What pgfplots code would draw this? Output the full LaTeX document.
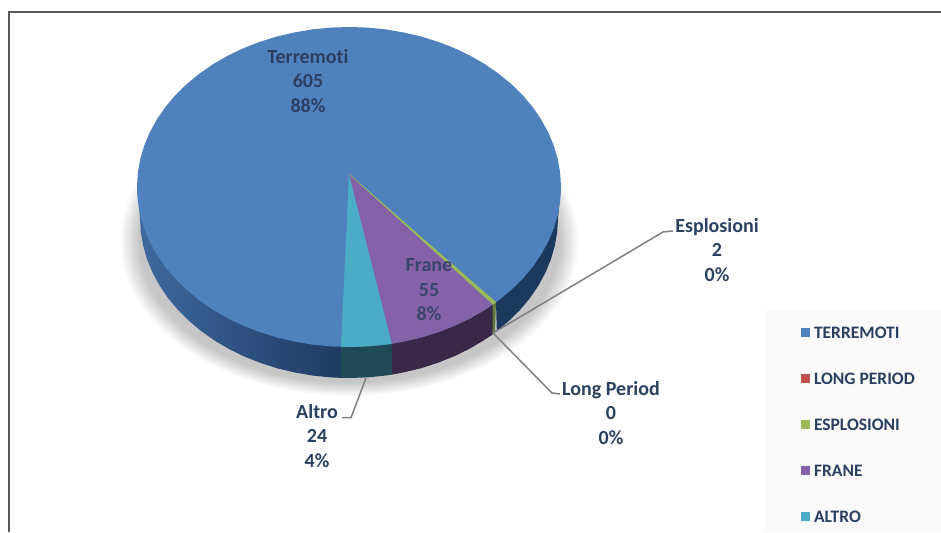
\documentclass[border=0pt]{standalone}
\usepackage{pgfplots}
\pgfplotsset{compat=1.18}
\usepackage{fontspec}
\setmainfont{Carlito}[Ligatures={NoCommon}]

\definecolor{terremoti}{HTML}{4F81BD}
\definecolor{longperiod}{HTML}{C0504D}
\definecolor{esplosioni}{HTML}{9BBB59}
\definecolor{frane}{HTML}{8562A8}
\definecolor{altro}{HTML}{4BACC6}
\definecolor{labtext}{HTML}{2B4060}
\definecolor{ombra}{HTML}{C6C6C6}
\definecolor{leader}{HTML}{808080}
\definecolor{sideT}{HTML}{1C3A5E}
\definecolor{sideE}{HTML}{5E7A3A}
\definecolor{sideF}{HTML}{3A2848}
\definecolor{sideA}{HTML}{1F4A55}
\definecolor{sideL}{HTML}{3F6A9F}
\definecolor{sideM}{HTML}{2E5080}
\definecolor{sideR}{HTML}{1E3A5F}

% the path is fitted to a 50bp box, so 25bp is the rim of the ellipse
\pgfdeclareradialshading{pieshadow}{\pgfpoint{0bp}{0bp}}{%
  color(0bp)=(ombra); color(22.8bp)=(ombra); color(25bp)=(white); color(100bp)=(white)}

\tikzset{
  lab/.style={align=center, text=labtext,
    font=\fontsize{20}{24.5}\selectfont\bfseries},
}

\begin{document}
\begin{tikzpicture}[x=1pt,y=1pt]
  \useasboundingbox (0,0) rectangle (941,532);
  % soft shadow and legend panel sit behind the axis
  \shade[shading=pieshadow] (349,291) ellipse [x radius=230, y radius=155];
  \fill[black!2] (765,0) rectangle (941,222);
  \begin{axis}[
      at={(0pt,0pt)}, anchor=south west,
      scale only axis, width=941pt, height=532pt,
      xmin=0, xmax=941, ymin=0, ymax=532,
      y dir=reverse,
      hide axis,
      clip=false,
      no markers,
      legend style={at={(axis cs:801,327)}, anchor=north west, draw=none, fill=none,
        row sep=34.5pt, inner sep=0pt, outer sep=0pt,
        font=\fontsize{17.5}{17.5}\selectfont\bfseries, text=labtext,
        nodes={inner sep=0pt, text depth=0pt}},
      legend cell align=left,
      legend image code/.code={\fill[#1] (0pt,-4.5pt) rectangle (9pt,4.5pt); \path (13pt,0pt);},
    ]

    \addlegendimage{fill=terremoti, draw=none}
    \addlegendentry{TERREMOTI}
    \addlegendimage{fill=longperiod, draw=none}
    \addlegendentry{LONG PERIOD}
    \addlegendimage{fill=esplosioni, draw=none}
    \addlegendentry{ESPLOSIONI}
    \addlegendimage{fill=frane, draw=none}
    \addlegendentry{FRANE}
    \addlegendimage{fill=altro, draw=none}
    \addlegendentry{ALTRO}

    % side walls
    \addplot[forget plot, draw=none, left color=sideL, right color=sideR, middle color=sideM] coordinates {
      (137,187) (140,218) (140.8,231.9) (143.2,245.8) (147.1,259.4) (152.6,272.7) (159.6,285.6)
      (168,298) (177.8,309.8) (188.9,320.8) (201.2,331.1) (214.7,340.6) (229.1,349.1)
      (244.5,356.6) (260.7,363) (277.5,368.4) (294.9,372.5) (312.7,375.6) (330.8,377.4)
      (341,377.9) (341,340) (349,187) (137,187)};
    \addplot[forget plot, draw=none, fill=sideT] coordinates {
      (561,187) (558,218) (557.2,231.9) (554.8,245.8) (550.9,259.4) (545.4,272.7) (538.4,285.6)
      (530,298) (520.2,309.8) (509.1,320.8) (496.8,331.1) (496,302) (349,187) (561,187)};
    \addplot[forget plot, draw=none, fill=sideE] coordinates {
      (491,300) (492.5,334.5) (495,332.2) (496,300) (491,300)};
    \addplot[forget plot, draw=none, fill=sideF] coordinates {
      (392,340) (392,374.6) (403.1,372.5) (420.5,368.4) (437.3,363) (453.5,356.6)
      (468.9,349.1) (483.3,340.6) (492.5,334.5) (492.5,300) (392,340)};
    \addplot[forget plot, draw=none, fill=sideA] coordinates {
      (341,340) (341,377.9) (349,378) (367.2,377.4) (385.3,375.6) (392,374.6) (392,340) (341,340)};

    % top face
    \addplot[forget plot, draw=none, fill=terremoti] coordinates {
      (561,187) (560.2,173.1) (557.8,159.2) (553.8,145.6) (548.2,132.3) (541.1,119.4) (532.6,107)
      (522.7,95.2) (511.4,84.2) (498.9,73.9) (485.3,64.4) (470.6,55.9) (455,48.4) (438.6,42)
      (421.5,36.6) (403.9,32.5) (385.8,29.4) (367.5,27.6) (349,27) (330.5,27.6) (312.2,29.4)
      (294.1,32.5) (276.5,36.6) (259.4,42) (243,48.4) (227.4,55.9) (212.7,64.4) (199.1,73.9)
      (186.6,84.2) (175.3,95.2) (165.4,107) (156.9,119.4) (149.8,132.3) (144.2,145.6)
      (140.2,159.2) (137.8,173.1) (137,187) (137.8,200.9) (140.2,214.8) (144.2,228.4)
      (149.8,241.7) (156.9,254.6) (165.4,267) (175.3,278.8) (186.6,289.8) (199.1,300.1)
      (212.7,309.6) (227.4,318.1) (243,325.6) (259.4,332) (276.5,337.4) (294.1,341.5)
      (312.2,344.6) (330.5,346.4) (349,347) (367.5,346.4) (385.8,344.6) (403.9,341.5)
      (421.5,337.4) (438.6,332) (455,325.6) (470.6,318.1) (485.3,309.6) (498.9,300.1)
      (511.4,289.8) (522.7,278.8) (532.6,267) (541.1,254.6) (548.2,241.7) (553.8,228.4)
      (557.8,214.8) (560.2,200.9) (561,187)};
    \addplot[forget plot, draw=none, fill=altro] coordinates {
      (349,174) (341,346.8) (349,347) (367.5,346.4) (385.8,344.6) (392,343.7) (349,174)};
    \addplot[forget plot, draw=none, fill=frane] coordinates {
      (349,174) (392,343.7) (403.9,341.5) (421.5,337.4) (438.6,332) (455,325.6) (470.6,318.1)
      (485.3,309.6) (493,304.4) (349,174)};
    \addplot[forget plot, draw=esplosioni, fill=esplosioni, line width=0.2pt] coordinates {
      (349,174) (493,304.4) (496,302.3) (349,174)};

    % leader lines
    \addplot[forget plot, draw=leader, line width=1.5pt] coordinates {(493,333) (663,232) (673,231)};
    \addplot[forget plot, draw=leader, line width=1.5pt] coordinates {(493,333) (552,393) (560,394)};
    \addplot[forget plot, draw=leader, line width=1.5pt] coordinates {(366,378) (351,417.7) (342,417.7)};

    % data labels
    \node[lab] at (axis cs:308,81) {Terremoti\\605\\88\%};
    \node[lab, text=labtext!85!frane] at (axis cs:429,290) {Frane\\55\\8\%};
    \node[lab] at (axis cs:717,250) {Esplosioni\\2\\0\%};
    \node[lab] at (axis cs:611,413) {Long Period\\0\\0\%};
    \node[lab] at (axis cs:317,436) {Altro\\24\\4\%};
  \end{axis}
  % chart frame, open on the right and at the bottom
  \draw[line width=2pt, black!65] (9,0) -- (9,520) -- (941,520);
\end{tikzpicture}
\end{document}
